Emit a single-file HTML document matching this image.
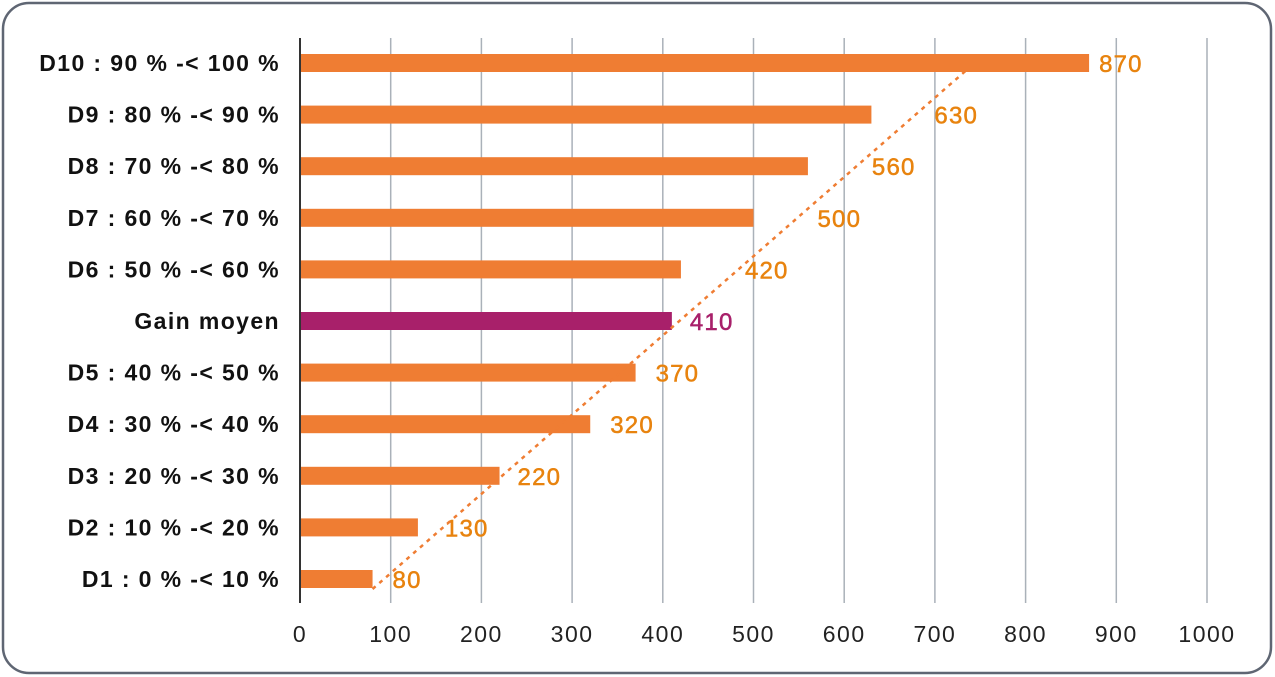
<!DOCTYPE html>
<html><head><meta charset="utf-8"><style>
body{margin:0;background:#fff;}
svg{display:block;font-family:"Liberation Sans",sans-serif;}
</style></head><body>
<svg id="chart" width="1275" height="677">
<rect x="3" y="3" width="1268" height="670" rx="26" fill="#fff" stroke="#5f6673" stroke-width="2.5"/>
</svg>
<script>
const categories=["D10 : 90 % -< 100 %","D9 : 80 % -< 90 %","D8 : 70 % -< 80 %","D7 : 60 % -< 70 %","D6 : 50 % -< 60 %","Gain moyen","D5 : 40 % -< 50 %","D4 : 30 % -< 40 %","D3 : 20 % -< 30 %","D2 : 10 % -< 20 %","D1 : 0 % -< 10 %"];
const values=[870,630,560,500,420,410,370,320,220,130,80];
const highlight=[false,false,false,false,false,true,false,false,false,false,false];
const ticks=[0,100,200,300,400,500,600,700,800,900,1000];
const trendValues=[80,735];
const labelGap=[10,63,64,64,64,18,20,20,18,27,20];
const NS="http://www.w3.org/2000/svg";
const svg=document.getElementById("chart");
const x0=300,x1=1207,maxV=1000;
const xs=v=>x0+(x1-x0)*v/maxV;
const rowTop=63,rowStep=51.6;
const ys=i=>rowTop+i*rowStep;
function mk(t,a){const e=document.createElementNS(NS,t);for(const k in a)e.setAttribute(k,a[k]);svg.appendChild(e);return e;}
ticks.forEach((t,i)=>{
 if(i>0){const g=mk("line",{x1:xs(t),x2:xs(t),y1:38,y2:603,stroke:"#aab1b9","stroke-width":1.5});
 
 }
 const l=mk("text",{x:xs(t),y:642,"text-anchor":"middle","font-size":23,"letter-spacing":1.5,fill:"#222"});l.textContent=t;
 
 
});
categories.forEach((c,i)=>{
 const y=ys(i);
 const col=highlight[i]?"#a8206a":"#ef7d33";
 const b=mk("rect",{x:x0,y:y-9,width:xs(values[i])-x0,height:18,fill:col});
 
 
 const t=mk("text",{x:280,y:y+8,"text-anchor":"end","font-size":23,"font-weight":"bold","letter-spacing":1.4,fill:"#111"});t.textContent=c;
 
 
 const v=mk("text",{x:xs(values[i])+labelGap[i],y:y+9,"font-size":24,"letter-spacing":1.2,"stroke-width":0.5,stroke:highlight[i]?"#a8206a":"#e8830e",fill:highlight[i]?"#a8206a":"#e8830e"});v.textContent=values[i];
 
 
});
const ax=mk("line",{x1:x0,x2:x0,y1:38,y2:603,stroke:"#333","stroke-width":2});


const tr=mk("line",{x1:xs(trendValues[0]),y1:ys(10)+10,x2:xs(trendValues[1]),y2:ys(0)+7,stroke:"#ef7d33","stroke-width":2.5,"stroke-dasharray":"4 5"});


</script>
</body></html>
